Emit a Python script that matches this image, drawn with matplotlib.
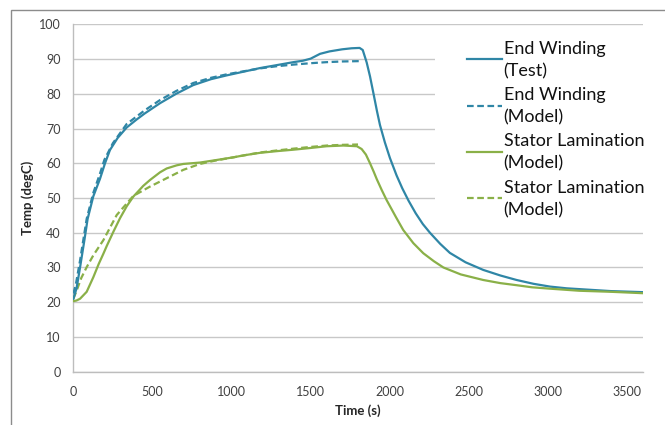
import matplotlib
matplotlib.use("Agg")
import matplotlib.pyplot as plt
from matplotlib.patches import Rectangle
from matplotlib.lines import Line2D

# ---- data ----
ew_test_t = [0, 20, 42, 70, 90, 126, 168, 200, 231, 280, 337, 400, 450, 548, 650, 758,
             870, 970, 1080, 1180, 1280, 1391, 1450, 1500, 1530, 1560, 1620, 1700, 1760,
             1810, 1830, 1855, 1876, 1896, 1920, 1939, 1970, 2002, 2044, 2080, 2120, 2165,
             2210, 2255, 2320, 2381, 2480, 2592, 2700, 2803, 2910, 3014, 3120, 3225, 3400, 3600]
ew_test_v = [21, 24, 30, 38, 44, 50.5, 55.5, 60, 63.8, 67.3, 70.3, 72.6, 74.3, 77.3, 80, 82.5,
             84.2, 85.3, 86.4, 87.4, 88.2, 89.1, 89.5, 90.1, 90.8, 91.5, 92.2, 92.8, 93.1,
             93.2, 92.6, 89, 85, 80.5, 75, 71, 66, 61.5, 56.5, 52.8, 49.2, 45.6,
             42.5, 40.0, 36.8, 34.2, 31.5, 29.3, 27.7, 26.4, 25.3, 24.5, 24.0, 23.7, 23.2, 22.9]

ew_model_t = [0, 15, 42, 84, 126, 168, 196, 250, 337, 450, 548, 650, 758, 870, 970, 1080,
              1180, 1280, 1391, 1500, 1600, 1700, 1810]
ew_model_v = [22.5, 25, 32, 44, 51.5, 57, 61, 65.8, 71.3, 75.2, 78.2, 80.8, 83.1, 84.6, 85.6, 86.5,
              87.3, 87.9, 88.4, 88.8, 89.1, 89.3, 89.4]

sl_test_t = [0, 20, 42, 84, 126, 160, 190, 211, 253, 295, 337, 379, 442, 485, 548, 590, 653, 695,
             800, 900, 1011, 1080, 1180, 1290, 1391, 1500, 1602, 1708, 1793, 1823, 1850, 1876,
             1900, 1918, 1950, 1981, 2040, 2086, 2150, 2213, 2280, 2340, 2450, 2592, 2700, 2803,
             2900, 3014, 3200, 3400, 3600]
sl_test_v = [20.3, 20.5, 21, 23, 27.2, 31.0, 34.0, 36.2, 40.3, 44.2, 47.6, 50.4, 53.5, 55.2, 57.4, 58.5, 59.4, 59.8,
             60.2, 60.9, 61.7, 62.3, 63.0, 63.5, 63.9, 64.4, 64.9, 65.1, 64.9, 64.1, 62.5, 60,
             57.5, 55.5, 52.3, 49.4, 44.5, 40.8, 37, 34.1, 31.8, 30, 28, 26.4, 25.5, 24.9,
             24.3, 23.9, 23.3, 23.0, 22.6]

sl_model_t = [0, 21, 50, 84, 126, 190, 274, 379, 485, 590, 695, 800, 900, 1011, 1180, 1290,
              1391, 1500, 1602, 1700, 1800]
sl_model_v = [21, 23.4, 27, 30.1, 33.5, 37.9, 45.1, 50.6, 53.3, 55.7, 58.1, 59.8, 60.8, 61.7, 63.1, 63.7,
              64.2, 64.7, 65.1, 65.3, 65.4]

labels = ["End Winding\n(Test)", "End Winding\n(Model)",
          "Stator Lamination\n(Model)", "Stator Lamination\n(Model)"]
x_ticks = [0, 500, 1000, 1500, 2000, 2500, 3000, 3500]
y_ticks = [0, 10, 20, 30, 40, 50, 60, 70, 80, 90, 100]

BLUE = "#2F86A6"
GREEN = "#8AB048"
FONT = ["Lato", "DejaVu Sans"]
plt.rcParams['font.family'] = FONT

W, H = 665, 425
fig = plt.figure(figsize=(W / 100, H / 100), dpi=100)
ax = fig.add_axes([73.4 / W, 1 - 371.7 / H, (642.6 - 73.4) / W, (371.7 - 24.3) / H])

# outer chart-area border (cropped on right and bottom)
fig.patches.append(Rectangle((10.5 / W, -0.1), 1.2, 1 - 10.5 / H + 0.1,
                             transform=fig.transFigure, fill=False,
                             edgecolor="#8c8c8c", linewidth=1.0))

lw = 1.6
dash = (3, 1.6)
styles = [(BLUE, "-"), (BLUE, (0, dash)), (GREEN, "-"), (GREEN, (0, dash))]
series = [(ew_test_t, ew_test_v), (ew_model_t, ew_model_v),
          (sl_test_t, sl_test_v), (sl_model_t, sl_model_v)]
for (t, v), (c, ls) in zip(series, styles):
    ax.plot(t, v, color=c, lw=lw, ls=ls, zorder=4 if ls == "-" else 3,
            solid_joinstyle="round")

ax.set_xlim(0, 3600)
ax.set_ylim(0, 100)
ax.set_xticks(x_ticks)
ax.set_yticks(y_ticks)
ax.tick_params(length=0, labelsize=9, labelcolor="#404040")
ax.tick_params(axis="y", pad=9)
ax.tick_params(axis="x", pad=10)
ax.grid(axis="y", color="#c8c8c8", lw=1.0, zorder=0)
ax.set_axisbelow(True)
for s in ["top", "right"]:
    ax.spines[s].set_visible(False)
for s in ["left", "bottom"]:
    ax.spines[s].set_color("#bdbdbd")
    ax.spines[s].set_linewidth(1.0)

ax.set_xlabel("Time (s)", fontsize=9.5, fontweight="bold", color="#262626", labelpad=5)
ax.set_ylabel("Temp (degC)", fontsize=9.5, fontweight="bold", color="#262626", labelpad=4)

# white area behind legend (hides gridlines there)
fig.patches.append(Rectangle((435 / W, 1 - 228 / H), (650 - 435) / W, (228 - 32) / H,
                             transform=fig.transFigure, facecolor="white",
                             edgecolor="none", zorder=1))
ax.set_zorder(0)

# legend drawn entry by entry (figure pixel layout)
def fx(px):
    return px / W

def fy(py):
    return 1 - py / H

for i, (lab, (c, ls)) in enumerate(zip(labels, styles)):
    hy = 59.3 + i * 46.3
    fig.add_artist(Line2D([fx(467), fx(502)], [fy(hy), fy(hy)], color=c, lw=lw, ls=ls,
                          transform=fig.transFigure))
    line1, line2 = lab.split("\n")
    fig.text(fx(503.5), fy(hy - 5.5), line1, fontsize=13, color="#111111",
             va="baseline", ha="left")
    fig.text(fx(503.5), fy(hy + 17.0), line2, fontsize=13, color="#111111",
             va="baseline", ha="left")

fig.savefig("out.png", dpi=100)
